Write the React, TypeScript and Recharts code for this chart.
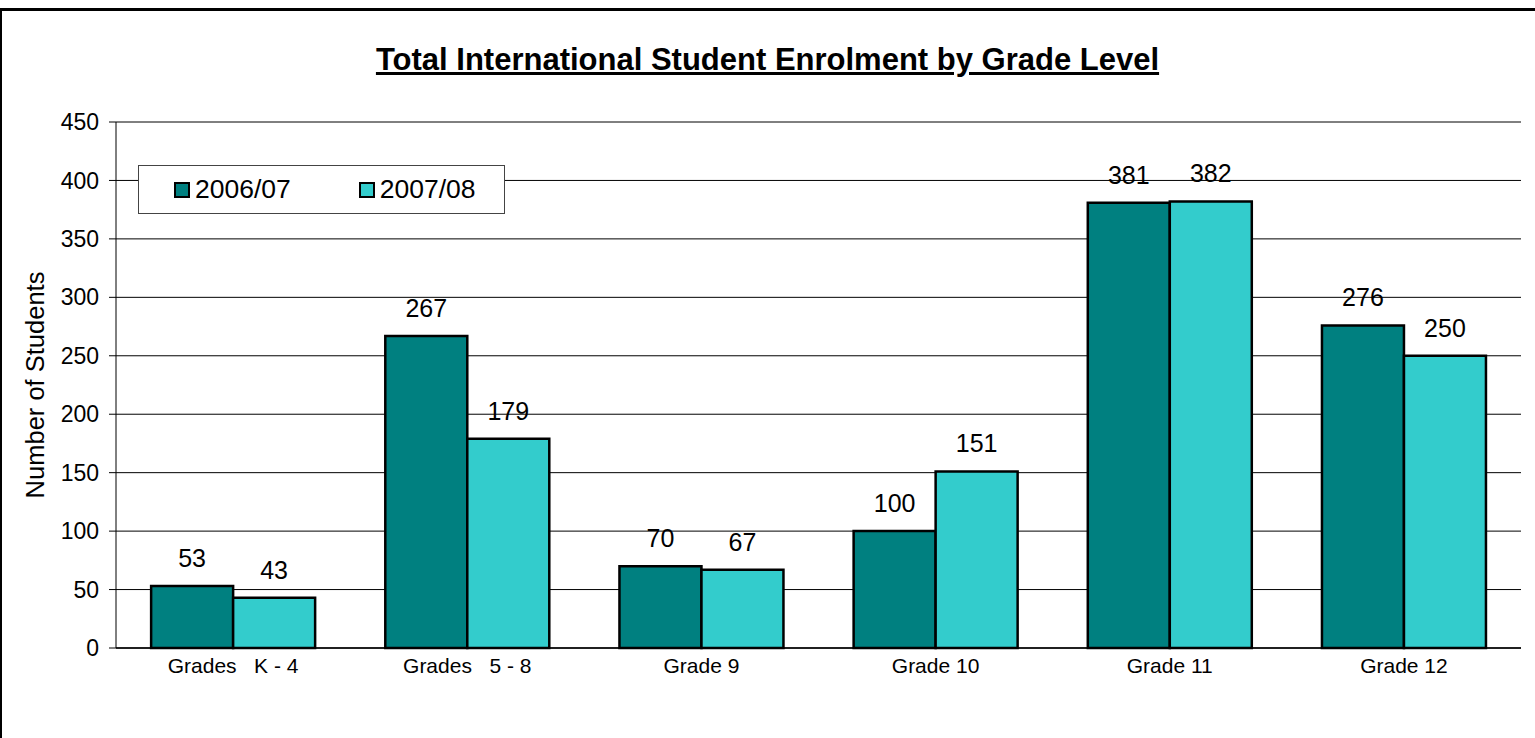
import { BarChart, Bar, XAxis, YAxis, CartesianGrid, LabelList } from "recharts"

const grades = ["Grades   K - 4", "Grades   5 - 8", "Grade 9", "Grade 10", "Grade 11", "Grade 12"]
const year0607 = [53, 267, 70, 100, 381, 276]
const year0708 = [43, 179, 67, 151, 382, 250]
const yTicks = [0, 50, 100, 150, 200, 250, 300, 350, 400, 450]

const data = grades.map((g, i) => ({ grade: g, y0607: year0607[i], y0708: year0708[i] }))

const FONT = "Arial, 'Liberation Sans', sans-serif"
const DARK = "#008080"
const LIGHT = "#33CCCC"

function CategoryTick(props: any) {
  const { x, y, payload } = props
  return (
    <text x={x} y={y} dy={17} textAnchor="middle" fontSize={21} fontFamily={FONT} fill="#000" style={{ whiteSpace: "pre" }}>
      {payload.value}
    </text>
  )
}

function LegendBox() {
  const items = [
    { label: "2006/07", color: DARK },
    { label: "2007/08", color: LIGHT },
  ]
  return (
    <div
      style={{
        position: "absolute",
        left: 138,
        top: 165,
        width: 367,
        height: 49,
        boxSizing: "border-box",
        border: "1.5px solid #444",
        background: "#fff",
        display: "flex",
        alignItems: "center",
        fontFamily: FONT,
        fontSize: 26.5,
      }}
    >
      {items.map((it, i) => (
        <div key={it.label} style={{ display: "flex", alignItems: "center", marginLeft: i === 0 ? 35 : 68 }}>
          <span style={{ width: 12, height: 12, background: it.color, border: "2px solid #000", display: "inline-block", marginRight: 5 }} />
          <span>{it.label}</span>
        </div>
      ))}
    </div>
  )
}

export default function App() {
  return (
    <div style={{ position: "absolute", left: 0, top: 0, width: 1535, height: 738, background: "#fff", overflow: "hidden" }}>
      <div
        style={{
          position: "absolute",
          left: 0,
          top: 8,
          width: 1600,
          height: 800,
          borderTop: "3px solid #000",
          borderLeft: "2px solid #000",
        }}
      />
      <div
        style={{
          position: "absolute",
          left: 0,
          width: 1535,
          top: 42,
          textAlign: "center",
          fontFamily: FONT,
          fontWeight: "bold",
          fontSize: 31,
          textDecoration: "underline",
        }}
      >
        Total International Student Enrolment by Grade Level
      </div>
      <div style={{ position: "absolute", left: 0, top: 0 }}>
        <BarChart
          width={1535}
          height={738}
          data={data}
          margin={{ top: 122, right: 14, bottom: 60, left: 0 }}
          barCategoryGap="15%"
          barGap={0}
        >
          <CartesianGrid vertical={false} stroke="#000" strokeWidth={1} />
          <XAxis
            dataKey="grade"
            height={30}
            tickLine={false}
            axisLine={{ stroke: "#000", strokeWidth: 1.5 }}
            tick={<CategoryTick />}
            interval={0}
          />
          <YAxis
            domain={[0, 450]}
            ticks={yTicks}
            width={116}
            tickSize={7}
            tickMargin={10}
            axisLine={{ stroke: "#000" }}
            tickLine={{ stroke: "#000" }}
            tick={{ fontSize: 23, fontFamily: FONT, fill: "#000" }}
            label={{ value: "Number of Students", angle: -90, position: "insideLeft", dx: 30, dy: 0, style: { fontSize: 25.5, fontFamily: FONT, fill: "#000", textAnchor: "middle" } }}
          />
          <YAxis yAxisId="frame" orientation="right" width={0} tick={false} tickLine={false} axisLine={{ stroke: "#555" }} />
          <Bar dataKey="y0607" name="2006/07" fill={DARK} stroke="#000" strokeWidth={2.5} isAnimationActive={false}>
            <LabelList dataKey="y0607" position="top" offset={19} style={{ fontSize: 25, fontFamily: FONT, fill: "#000" }} />
          </Bar>
          <Bar dataKey="y0708" name="2007/08" fill={LIGHT} stroke="#000" strokeWidth={2.5} isAnimationActive={false}>
            <LabelList dataKey="y0708" position="top" offset={19} style={{ fontSize: 25, fontFamily: FONT, fill: "#000" }} />
          </Bar>
        </BarChart>
      </div>
      <LegendBox />
    </div>
  )
}
